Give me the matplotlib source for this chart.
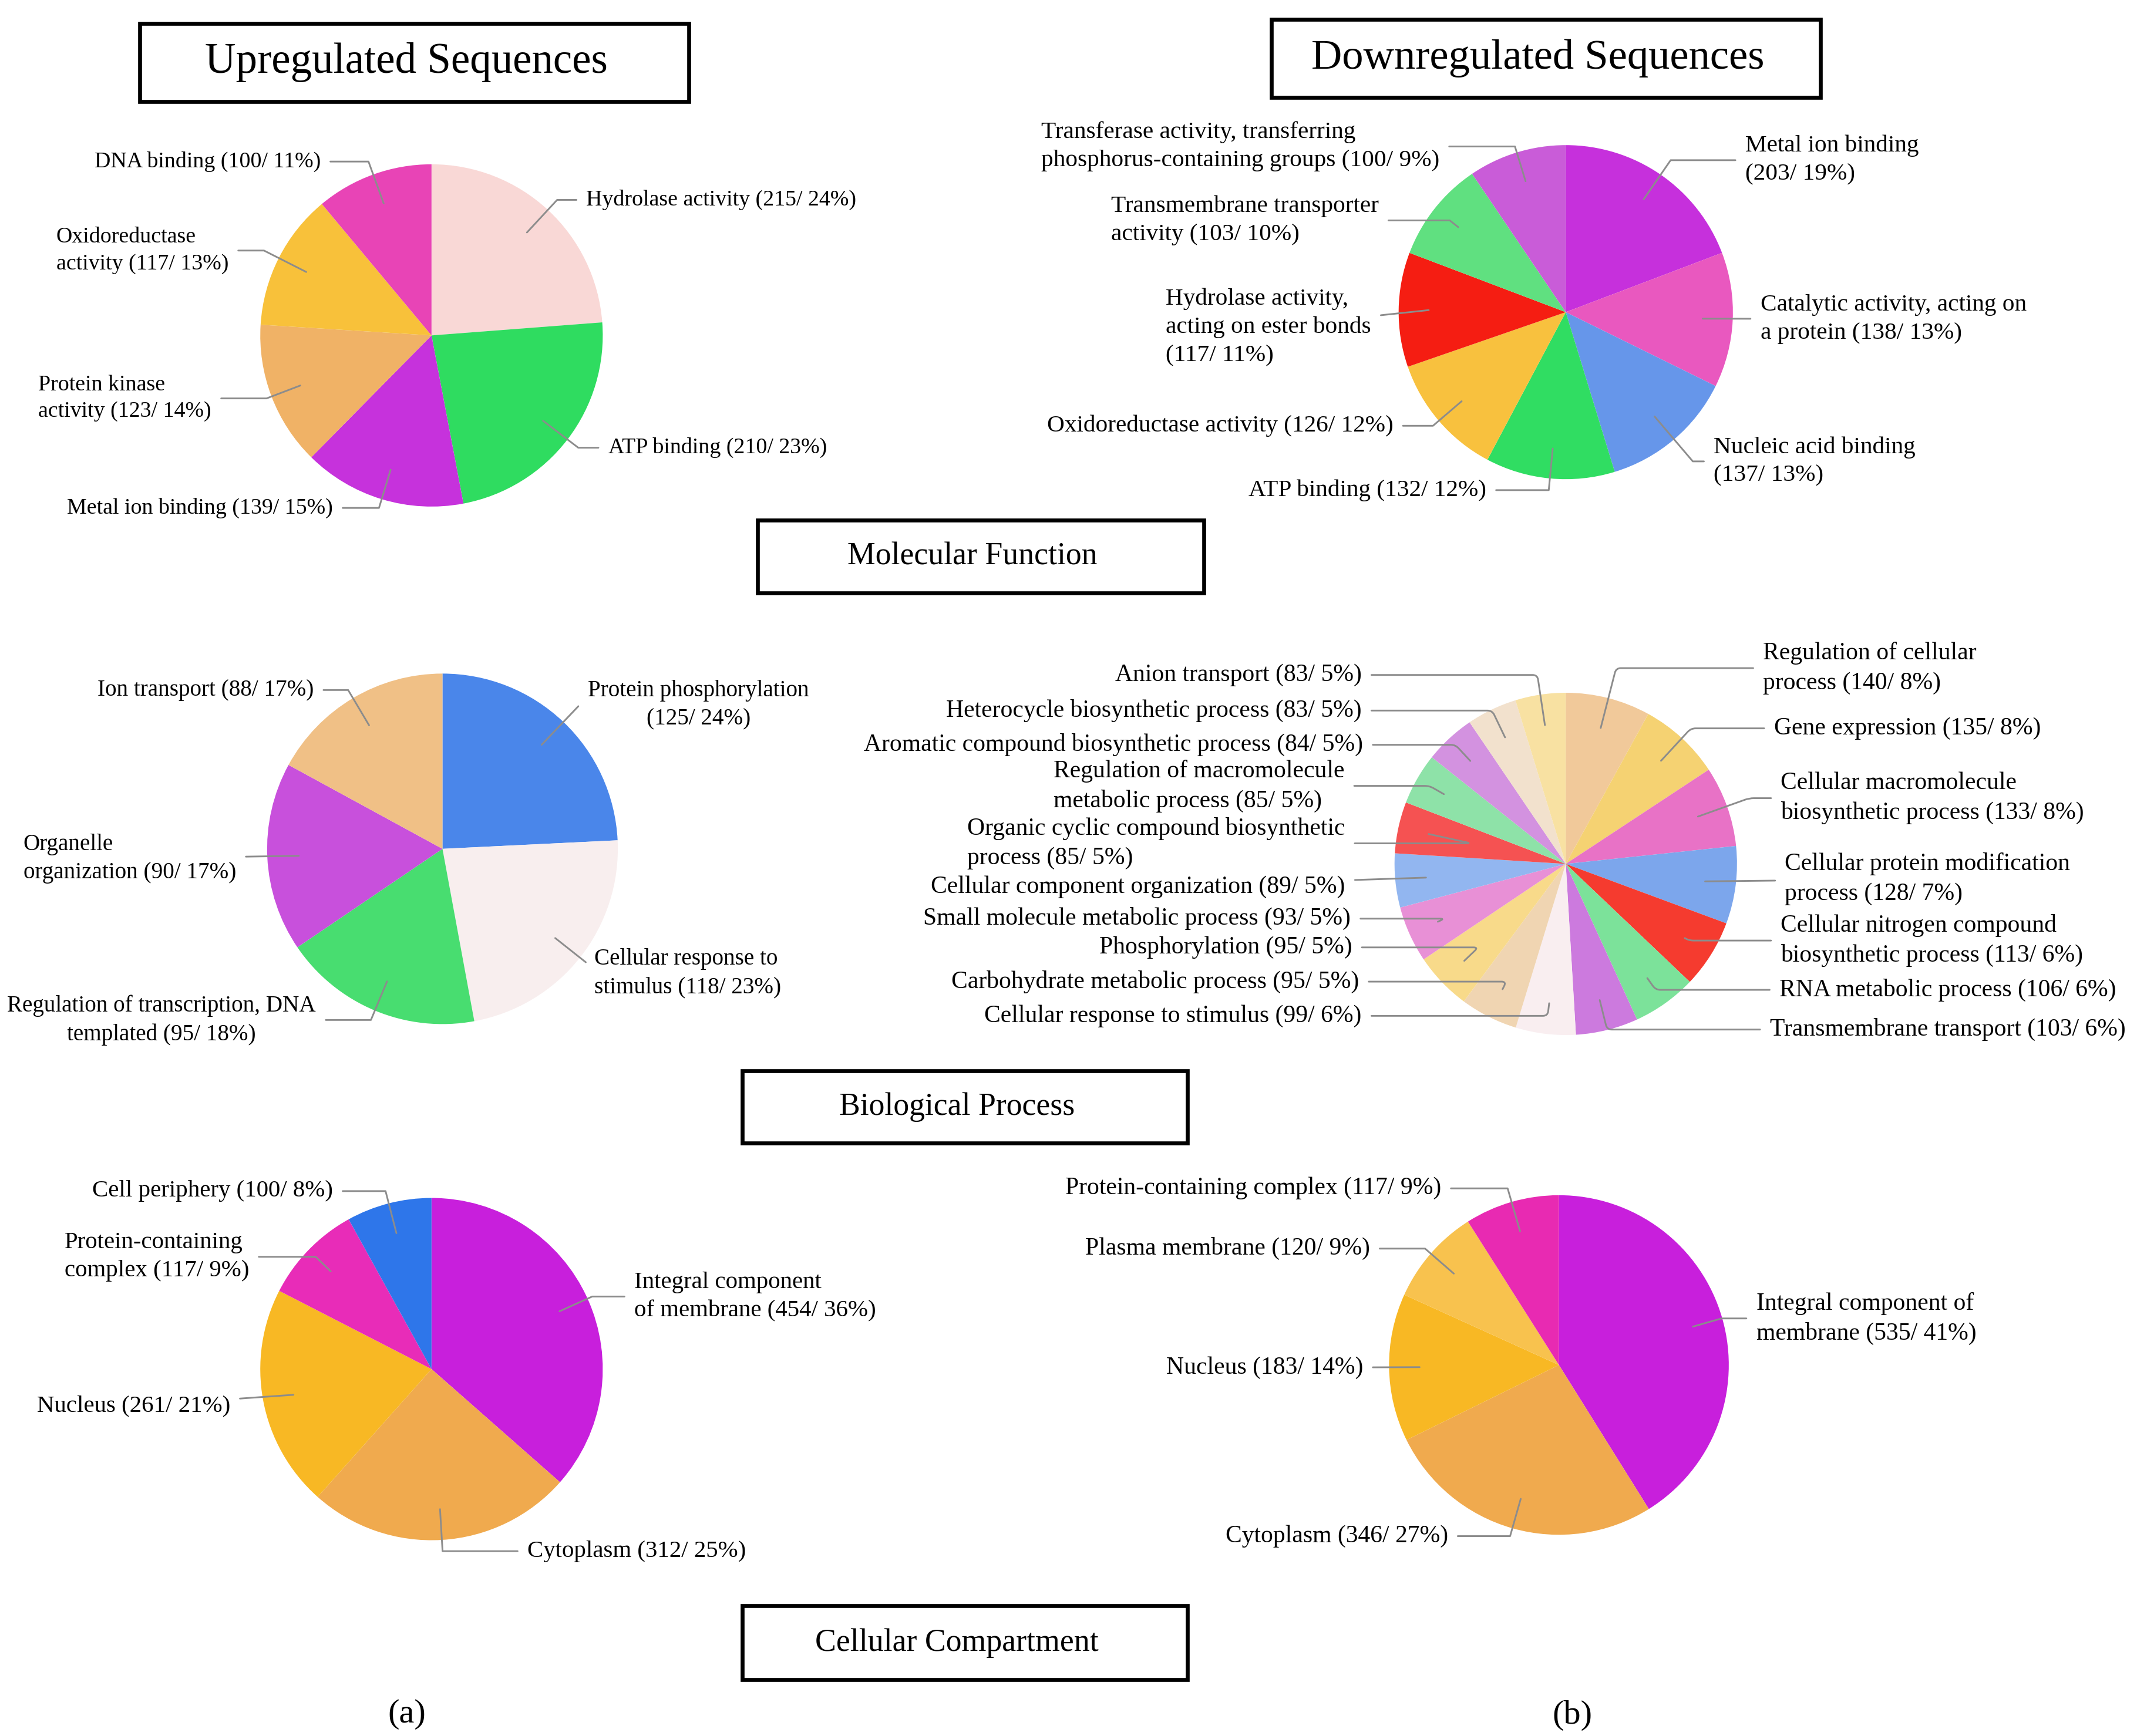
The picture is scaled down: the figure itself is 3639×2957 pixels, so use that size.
import matplotlib.pyplot as plt
from matplotlib.patches import Rectangle
import numpy as np

plt.rcParams['font.family'] = ['Liberation Serif', 'DejaVu Serif']

# layout grid, measured in picture units from the top-left corner
W, H = 1560, 1268

# Molecular function, upregulated
mf_up_labels = ["Hydrolase activity (215/ 24%)", "ATP binding (210/ 23%)",
                "Metal ion binding (139/ 15%)", "Protein kinase\nactivity (123/ 14%)",
                "Oxidoreductase\nactivity (117/ 13%)", "DNA binding (100/ 11%)"]
mf_up_counts = [215, 210, 139, 123, 117, 100]
mf_up_colors = ["#f9d8d6", "#2fdc60", "#c632dc", "#f0b266", "#f8c13a", "#e844b6"]

# Molecular function, downregulated
mf_down_labels = ["Metal ion binding\n(203/ 19%)", "Catalytic activity, acting on\na protein (138/ 13%)",
                  "Nucleic acid binding\n(137/ 13%)", "ATP binding (132/ 12%)",
                  "Oxidoreductase activity (126/ 12%)",
                  "Hydrolase activity,\nacting on ester bonds\n(117/ 11%)",
                  "Transmembrane transporter\nactivity (103/ 10%)",
                  "Transferase activity, transferring\nphosphorus-containing groups (100/ 9%)"]
mf_down_counts = [203, 138, 137, 132, 126, 117, 103, 100]
mf_down_colors = ["#c630dc", "#e958bf", "#6696ea", "#30dd62", "#f8c13e", "#f51d12", "#60e080", "#c95cd8"]

# Biological process, upregulated
bp_up_labels = ["Protein phosphorylation\n(125/ 24%)", "Cellular response to\nstimulus (118/ 23%)",
                "Regulation of transcription, DNA\ntemplated (95/ 18%)",
                "Organelle\norganization (90/ 17%)", "Ion transport (88/ 17%)"]
bp_up_counts = [125, 118, 95, 90, 88]
bp_up_colors = ["#4a86ea", "#f8eeee", "#48dd70", "#c850dc", "#f0c086"]

# Biological process, downregulated
bp_down_labels = ["Regulation of cellular\nprocess (140/ 8%)", "Gene expression (135/ 8%)",
                  "Cellular macromolecule\nbiosynthetic process (133/ 8%)",
                  "Cellular protein modification\nprocess (128/ 7%)",
                  "Cellular nitrogen compound\nbiosynthetic process (113/ 6%)",
                  "RNA metabolic process (106/ 6%)", "Transmembrane transport (103/ 6%)",
                  "Cellular response to stimulus (99/ 6%)", "Carbohydrate metabolic process (95/ 5%)",
                  "Phosphorylation (95/ 5%)", "Small molecule metabolic process (93/ 5%)",
                  "Cellular component organization (89/ 5%)",
                  "Organic cyclic compound biosynthetic\nprocess (85/ 5%)",
                  "Regulation of macromolecule\nmetabolic process (85/ 5%)",
                  "Aromatic compound biosynthetic process (84/ 5%)",
                  "Heterocycle biosynthetic process (83/ 5%)", "Anion transport (83/ 5%)"]
bp_down_counts = [140, 135, 133, 128, 113, 106, 103, 99, 95, 95, 93, 89, 85, 85, 84, 83, 83]
bp_down_colors = ["#f1c99a", "#f5d272", "#e872c6", "#7ca6ec", "#f53b2f", "#7ce29a", "#cc7ade",
                  "#f9eef0", "#f0d5b2", "#f8da8a", "#e890d6", "#92b6f0", "#f55252", "#8ee2a8",
                  "#d392e0", "#f2e1cd", "#f8e1a2"]

# Cellular compartment, upregulated
cc_up_labels = ["Integral component\nof membrane (454/ 36%)", "Cytoplasm (312/ 25%)",
                "Nucleus (261/ 21%)", "Protein-containing\ncomplex (117/ 9%)", "Cell periphery (100/ 8%)"]
cc_up_counts = [454, 312, 261, 117, 100]
cc_up_colors = ["#c81fdc", "#f0aa4e", "#f8b824", "#e82cb8", "#2e76ea"]

# Cellular compartment, downregulated
cc_down_labels = ["Integral component of\nmembrane (535/ 41%)", "Cytoplasm (346/ 27%)",
                  "Nucleus (183/ 14%)", "Plasma membrane (120/ 9%)", "Protein-containing complex (117/ 9%)"]
cc_down_counts = [535, 346, 183, 120, 117]
cc_down_colors = ["#c81fdc", "#f0aa4e", "#f8b824", "#f8c24e", "#e82ab2"]

# label anchors: x, y, ha, multialignment
mf_up_spots = [(428, 146, 'left', 'left'), (444, 327, 'left', 'left'), (243, 371, 'right', 'left'),
               (28, 291, 'left', 'left'), (41, 183, 'left', 'left'), (234, 118, 'right', 'left')]
mf_down_spots = [(1274, 117, 'left', 'left'), (1285, 233, 'left', 'left'), (1251, 337, 'left', 'left'),
                 (1085, 358, 'right', 'left'), (1017, 311, 'right', 'left'), (851, 239, 'left', 'left'),
                 (811, 161, 'left', 'left'), (760, 107, 'left', 'left')]
bp_up_spots = [(510, 515, 'center', 'center'), (434, 711, 'left', 'left'), (118, 745, 'center', 'center'),
               (17, 627, 'left', 'left'), (229, 504, 'right', 'left')]
bp_down_spots = [(1287, 488, 'left', 'left'), (1295, 532, 'left', 'left'), (1300, 583, 'left', 'left'),
                 (1303, 642, 'left', 'left'), (1300, 687, 'left', 'left'), (1299, 723, 'left', 'left'),
                 (1292, 752, 'left', 'left'), (994, 742, 'right', 'left'), (992, 717, 'right', 'left'),
                 (987, 692, 'right', 'left'), (986, 671, 'right', 'left'), (982, 648, 'right', 'left'),
                 (706, 616, 'left', 'left'), (769, 574, 'left', 'left'), (995, 544, 'right', 'left'),
                 (994, 519, 'right', 'left'), (994, 493, 'right', 'left')]
cc_up_spots = [(463, 947, 'left', 'left'), (385, 1133, 'left', 'left'), (168, 1027, 'right', 'left'),
               (47, 918, 'left', 'left'), (243, 870, 'right', 'left')]
cc_down_spots = [(1282, 963, 'left', 'left'), (1057, 1122, 'right', 'left'), (995, 999, 'right', 'left'),
                 (1000, 912, 'right', 'left'), (1052, 868, 'right', 'left')]


def draw_pie(ax, counts, colors, labels, spots, center, radius, size=9, curve=0):
    cx, cy = center
    wedges, _ = ax.pie(counts, colors=colors, startangle=90, counterclock=False,
                       center=(cx, H - cy), radius=radius, frame=True,
                       wedgeprops=dict(linewidth=0))
    for w, text, (tx, ty, ha, ma) in zip(wedges, labels, spots):
        ang = (w.theta1 + w.theta2) / 2
        px = w.center[0] + 0.82 * w.r * np.cos(np.radians(ang))
        py = w.center[1] + 0.82 * w.r * np.sin(np.radians(ang))
        if abs(np.sin(np.radians(ang))) < 0.2:
            style = 'arc3,rad=0'
        else:
            style = f'angle,angleA=0,angleB={ang},rad={curve}'
        ax.annotate(text, xy=(px, py), xytext=(tx, H - ty), ha=ha, va='center',
                    multialignment=ma, fontsize=size, linespacing=1.4,
                    arrowprops=dict(arrowstyle='-', color='#8c8c8c', lw=0.7,
                                    shrinkA=2, shrinkB=0, connectionstyle=style))


def draw_box(ax, text, x, y, w, h, size):
    ax.add_patch(Rectangle((x, H - y - h), w, h, fill=False, ec='black', lw=1.6))
    ax.text(x + w / 2 - 6, H - y - h / 2, text, ha='center', va='center', fontsize=size)


fig = plt.figure(figsize=(3639 / 300, 2957 / 300), dpi=300)
ax = fig.add_axes([0, 0, 1, 1])

draw_pie(ax, mf_up_counts, mf_up_colors, mf_up_labels, mf_up_spots, (315, 245), 125, size=9.1)
draw_pie(ax, mf_down_counts, mf_down_colors, mf_down_labels, mf_down_spots, (1143, 228), 122, size=9.9)
draw_pie(ax, bp_up_counts, bp_up_colors, bp_up_labels, bp_up_spots, (323, 620), 128, size=9.4)
draw_pie(ax, bp_down_counts, bp_down_colors, bp_down_labels, bp_down_spots, (1143, 631), 125,
         size=10, curve=8)
draw_pie(ax, cc_up_counts, cc_up_colors, cc_up_labels, cc_up_spots, (315, 1000), 125, size=9.8)
draw_pie(ax, cc_down_counts, cc_down_colors, cc_down_labels, cc_down_spots, (1138, 997), 124, size=10)

draw_box(ax, "Upregulated Sequences", 102, 17, 401, 57, 17.5)
draw_box(ax, "Downregulated Sequences", 928, 14, 401, 57, 17.4)
draw_box(ax, "Molecular Function", 553, 380, 326, 53, 12.9)
draw_box(ax, "Biological Process", 542, 782, 325, 53, 12.9)
draw_box(ax, "Cellular Compartment", 542, 1173, 325, 54, 12.9)

ax.text(297, H - 1252, "(a)", ha='center', va='center', fontsize=14)
ax.text(1148, H - 1253, "(b)", ha='center', va='center', fontsize=14)

ax.set_xlim(0, W)
ax.set_ylim(0, H)
ax.set_aspect('auto')
ax.axis('off')

fig.savefig('out.png', dpi=300)
